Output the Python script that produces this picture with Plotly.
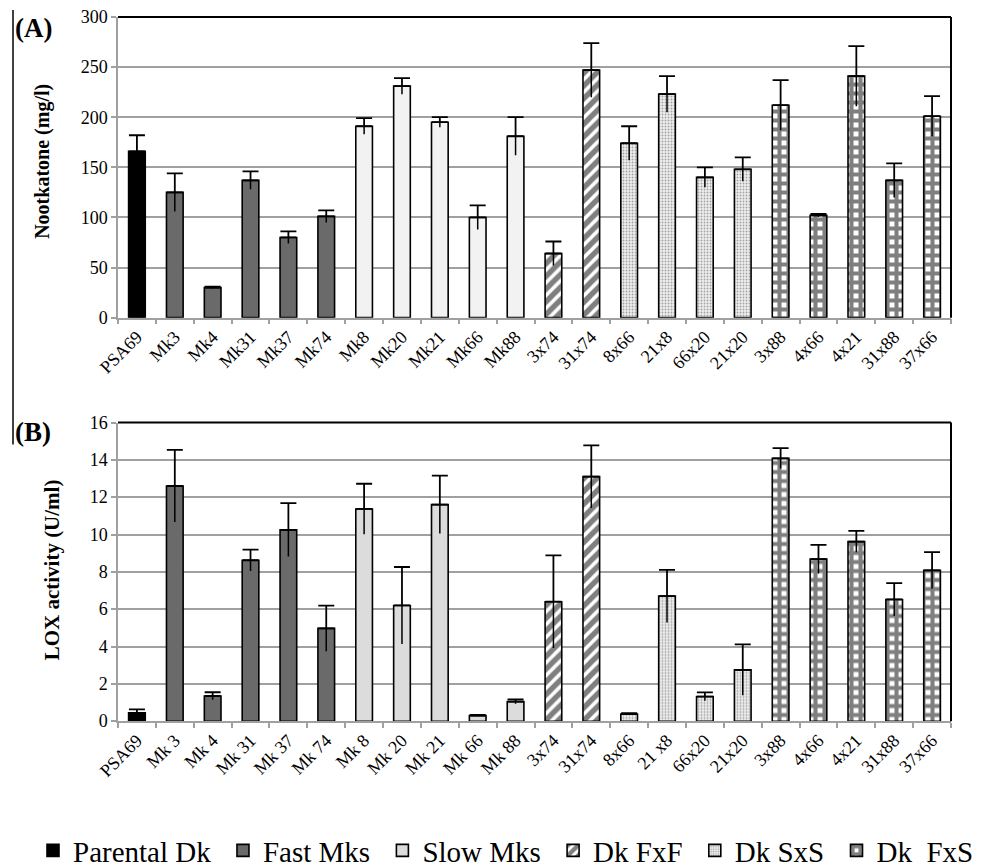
import plotly.graph_objects as go

# ---------------- data ----------------
names_a = ["PSA69", "Mk3", "Mk4", "Mk31", "Mk37", "Mk74", "Mk8", "Mk20", "Mk21", "Mk66", "Mk88",
           "3x74", "31x74", "8x66", "21x8", "66x20", "21x20", "3x88", "4x66", "4x21", "31x88", "37x66"]
names_b = ["PSA69", "Mk 3", "Mk 4", "Mk 31", "Mk 37", "Mk 74", "Mk 8", "Mk 20", "Mk 21", "Mk 66", "Mk 88",
           "3x74", "31x74", "8x66", "21 x8", "66x20", "21x20", "3x88", "4x66", "4x21", "31x88", "37x66"]
groups = ["Parental Dk", "Fast Mks", "Fast Mks", "Fast Mks", "Fast Mks", "Fast Mks",
          "Slow Mks", "Slow Mks", "Slow Mks", "Slow Mks", "Slow Mks",
          "Dk FxF", "Dk FxF", "Dk SxS", "Dk SxS", "Dk SxS", "Dk SxS",
          "Dk FxS", "Dk FxS", "Dk FxS", "Dk FxS", "Dk FxS"]
group_order = ["Parental Dk", "Fast Mks", "Slow Mks", "Dk FxF", "Dk SxS", "Dk FxS"]
legend_labels = ["Parental Dk\u00a0", "Fast Mks\u00a0", "Slow Mks\u00a0", "Dk FxF\u00a0",
                 "Dk SxS\u00a0", "Dk\u00a0 FxS"]

nootkatone = [166, 125, 30, 137, 80, 101, 191, 231, 195, 100, 181,
              64, 247, 174, 223, 140, 148, 212, 102, 241, 137, 201]
nootkatone_err = [16, 19, 1, 9, 6, 6, 8, 8, 5, 12, 19,
                  12, 27, 17, 18, 10, 12, 25, 1.5, 30, 17, 20]
lox = [0.45, 12.6, 1.35, 8.62, 10.25, 4.97, 11.37, 6.2, 11.6, 0.3, 1.05,
       6.4, 13.1, 0.38, 6.7, 1.32, 2.75, 14.08, 8.68, 9.62, 6.52, 8.08]
lox_err = [0.18, 1.93, 0.2, 0.57, 1.43, 1.22, 1.35, 2.06, 1.55, 0.03, 0.12,
           2.48, 1.68, 0.05, 1.41, 0.22, 1.36, 0.55, 0.77, 0.57, 0.88, 0.98]

# ---------------- styles ----------------
SERIF = "Liberation Serif, Times New Roman, serif"
GRID = "#a0a0a0"
OFF = 8  # page body margin of the exported html


def style_for(g, panel):
    if g == "Parental Dk":
        return dict(color="black")
    if g == "Fast Mks":
        return dict(color="#6a6a6a")
    if g == "Slow Mks":
        return dict(color="#f2f2f2" if panel == "a" else "#dcdcdc")
    if g == "Dk FxF":
        return dict(color="white", pattern=dict(shape="/", fgcolor="black", bgcolor="white",
                                                size=9, solidity=0.6))
    if g == "Dk SxS":
        return dict(color="#eeeeee", pattern=dict(shape=".", fgcolor="#555555", bgcolor="#eeeeee",
                                                  size=3, solidity=0.3))
    return dict(color="white", pattern=dict(shape="+", fgcolor="black", bgcolor="white",
                                            size=9, solidity=0.7))


fig = go.Figure()


def add_panel(names, vals, errs, xa, ya, panel, showlegend):
    for g, lab in zip(group_order, legend_labels):
        idx = [i for i, gg in enumerate(groups) if gg == g]
        st = style_for(g, panel)
        marker = dict(color=st["color"], line=dict(color="black", width=1.6))
        if "pattern" in st:
            marker["pattern"] = st["pattern"]
        fig.add_trace(go.Bar(
            x=[names[i] for i in idx], y=[vals[i] for i in idx],
            name=lab, marker=marker, width=0.44,
            error_y=dict(type="data", symmetric=False,
                         array=[errs[i] for i in idx], arrayminus=[0] * len(idx),
                         color="black", thickness=1.8, width=8),
            xaxis=xa, yaxis=ya, showlegend=showlegend, legendgroup=g,
        ))
    # downward half of the error bars (no cap), drawn over the bars
    fig.add_trace(go.Scatter(
        x=names, y=vals, mode="markers", marker=dict(opacity=0, size=1),
        error_y=dict(type="data", symmetric=False, array=[0] * len(vals), arrayminus=errs,
                     color="black", thickness=1.5, width=0),
        xaxis=xa, yaxis=ya, showlegend=False, hoverinfo="skip",
    ))


add_panel(names_a, nootkatone, nootkatone_err, "x", "y", "a", False)
add_panel(names_b, lox, lox_err, "x2", "y2", "b", True)

W, H = 983, 868


def px(x):
    return (x - OFF) / W


def py(y):
    return 1 - (y - OFF) / H


x_dom = [px(118), px(951)]
ya_dom = [py(318), py(17)]
yb_dom = [py(722), py(423)]

xaxis_common = dict(
    type="category", showline=True, linecolor=GRID, linewidth=1.5,
    ticks="outside", tickson="boundaries", ticklen=5, tickcolor=GRID, tickwidth=1.5,
    tickangle=-45, tickfont=dict(family=SERIF, size=18, color="black"),
    showgrid=False, zeroline=False, automargin=False, range=[-0.5, 21.5],
    ticklabeloverflow="allow",
)
yaxis_common = dict(
    showline=True, linecolor=GRID, linewidth=1.5, ticks="outside", ticklen=5,
    tickcolor=GRID, tickwidth=1.5, showgrid=True, gridcolor=GRID, gridwidth=1.5,
    zeroline=False, tickfont=dict(family=SERIF, size=18, color="black"), automargin=False,
    ticklabeloverflow="allow",
)

fig.update_layout(
    width=W, height=H, margin=dict(l=0, r=0, t=0, b=0),
    paper_bgcolor="white", plot_bgcolor="white", barmode="overlay",
    font=dict(family=SERIF, color="black"),
    xaxis=dict(xaxis_common, domain=x_dom, anchor="y",
               categoryorder="array", categoryarray=names_a),
    yaxis=dict(yaxis_common, domain=ya_dom, anchor="x", range=[0, 300], dtick=50),
    xaxis2=dict(xaxis_common, domain=x_dom, anchor="y2",
                categoryorder="array", categoryarray=names_b),
    yaxis2=dict(yaxis_common, domain=yb_dom, anchor="x2", range=[0, 16], dtick=2),
    legend=dict(orientation="h", x=px(506), xanchor="center", y=py(851), yanchor="middle",
                font=dict(family=SERIF, size=29, color="black"),
                traceorder="normal", itemwidth=30, bgcolor="rgba(0,0,0,0)"),
    showlegend=True,
)

# black top and right frame lines of each plot area
for xr, yr in (("x domain", "y domain"), ("x2 domain", "y2 domain")):
    fig.add_shape(type="line", xref=xr, yref=yr, x0=0, x1=1, y0=1, y1=1,
                  line=dict(color="black", width=2))
    fig.add_shape(type="line", xref=xr, yref=yr, x0=1, x1=1, y0=0, y1=1,
                  line=dict(color="black", width=2))

# left border line of the original figure
fig.add_shape(type="line", xref="paper", yref="paper", x0=px(13), x1=px(13),
              y0=py(445), y1=py(10), line=dict(color="black", width=1.5))

# panel labels and axis titles
common_ann = dict(xref="paper", yref="paper", showarrow=False, xanchor="center", yanchor="middle")
fig.add_annotation(text="<b>(A)</b>", x=px(33), y=py(28),
                   font=dict(family=SERIF, size=27, color="black"), **common_ann)
fig.add_annotation(text="<b>(B)</b>", x=px(33), y=py(432),
                   font=dict(family=SERIF, size=27, color="black"), **common_ann)
fig.add_annotation(text="<b>Nootkatone (mg/l)</b>", x=px(43), y=py(162), textangle=-90,
                   font=dict(family=SERIF, size=20, color="black"), **common_ann)
fig.add_annotation(text="<b>LOX activity (U/ml)</b>", x=px(52), y=py(571), textangle=-90,
                   font=dict(family=SERIF, size=21, color="black"), **common_ann)

fig.write_html("out.html")
